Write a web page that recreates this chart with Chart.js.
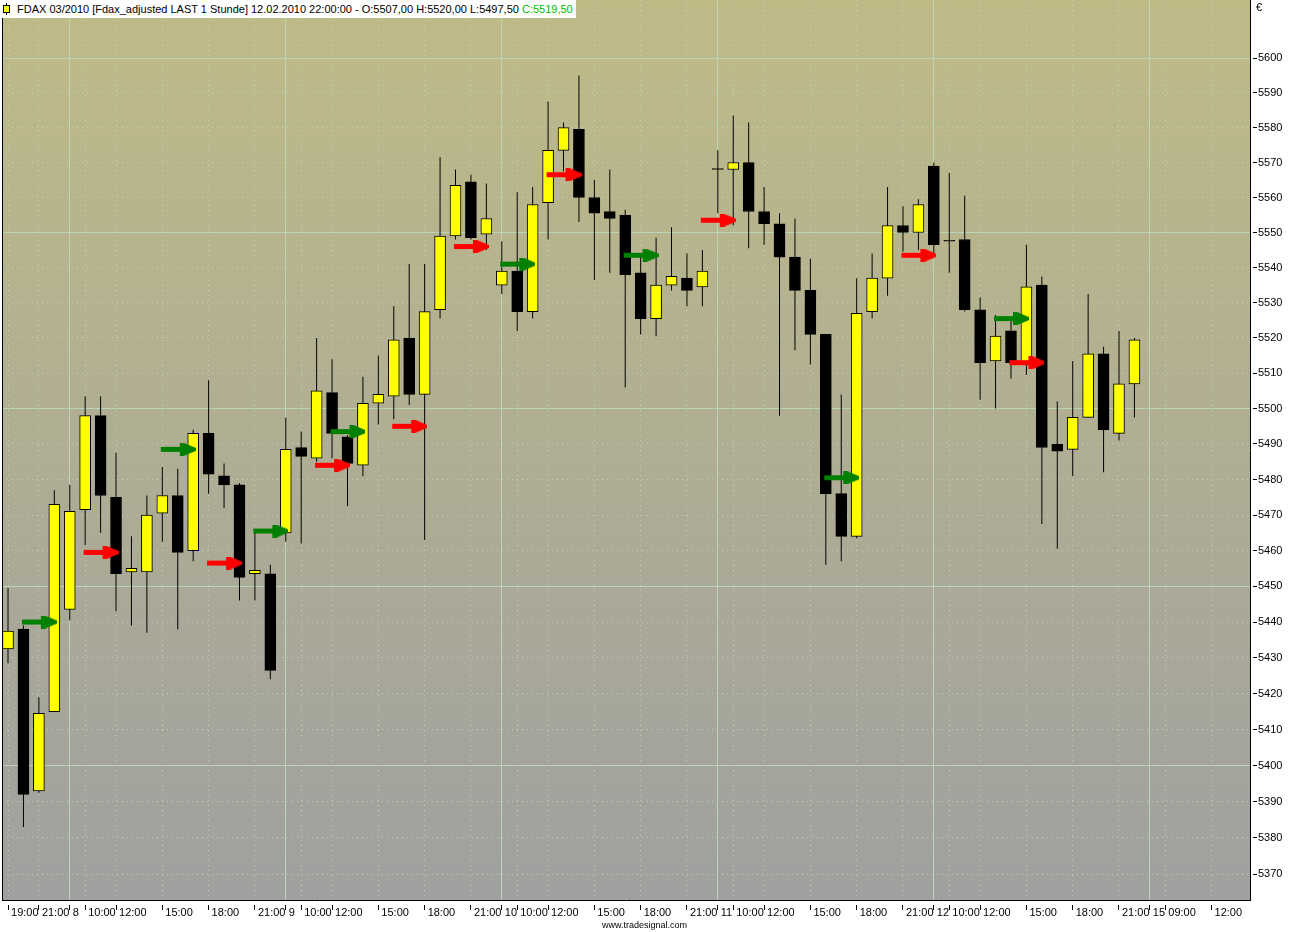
<!DOCTYPE html>
<html>
<head>
<meta charset="utf-8">
<script src="https://cdn.jsdelivr.net/npm/chart.js@4.4.1/dist/chart.umd.min.js"></script>
<style>
  html, body { margin: 0; padding: 0; background: #fff; }
  #wrap { position: relative; width: 1292px; height: 932px; overflow: hidden; }
  #wrap canvas { position: absolute; left: 0; top: 0; }
  .txt { position: absolute; font-family: "Liberation Sans", Arial, sans-serif; color: #000; white-space: nowrap; }
  #header { left: 0; top: 0; height: 18px; line-height: 18px; font-size: 11px; background: #fff; padding: 0 3px 0 17px; }
  #header .wick { position: absolute; left: 6px; top: 3px; width: 1px; height: 12px; background: #000; }
  #header .body { position: absolute; left: 3px; top: 5px; width: 5px; height: 6px; background: #ffff00; border: 1px solid #000; }
  #header .close { color: #00c000; }
  #euro { left: 1256px; top: 1px; font-size: 11px; }
  #brand { left: 602px; top: 920px; font-size: 9px; }
</style>
</head>
<body>
<div id="wrap">
  <canvas id="fdax" width="1292" height="932"></canvas>
  <div id="header" class="txt"><span class="wick"></span><span class="body"></span>FDAX 03/2010 [Fdax_adjusted LAST 1 Stunde] 12.02.2010 22:00:00 - O:5507,00 H:5520,00 L:5497,50 <span class="close">C:5519,50</span></div>
  <div id="euro" class="txt">€</div>
  <div id="brand" class="txt">www.tradesignal.com</div>
</div>
<script>
// hourly bars, 05.02. 19:00 .. 12.02. 22:00
const opens = [
  5432.5, 5438, 5393, 5415,
  5443.5, 5471.5, 5498, 5475, 5454, 5454, 5470.5, 5475.5, 5460, 5493, 5481, 5478.5, 5453.5, 5453.5,
  5465, 5489, 5486, 5504.5, 5492, 5484, 5501.5, 5503.5, 5520, 5504, 5528, 5549, 5564.5, 5549.5,
  5535, 5539, 5527.5, 5558.5, 5573.5, 5579.5, 5560, 5556, 5555, 5538.5, 5525.5, 5535, 5537, 5534.5,
  5568, 5568, 5570, 5556, 5552.5, 5543, 5533.5, 5521, 5476, 5464, 5527.5, 5537, 5552, 5550,
  5569, 5547.5, 5548, 5528, 5513.5, 5522, 5513, 5535, 5490, 5488.5, 5497.5, 5515.5, 5493, 5507
];
const highs = [
  5449.5, 5439, 5419, 5477,
  5478.5, 5503.5, 5503.5, 5487.5, 5464, 5475.5, 5483.5, 5483, 5494, 5508, 5484.5, 5479, 5465, 5456,
  5497.5, 5493.5, 5520, 5514, 5492.5, 5509, 5515, 5529, 5541, 5541, 5571.5, 5568, 5566.5, 5564,
  5547.5, 5561.5, 5563, 5587.5, 5581.5, 5595, 5565, 5568, 5556.5, 5543, 5548.5, 5551.5, 5544, 5545,
  5573.5, 5583.5, 5581.5, 5563, 5555.5, 5554, 5542.5, 5521, 5504, 5537, 5544, 5563, 5557.5, 5559.5,
  5570, 5567, 5560.5, 5531.5, 5526.5, 5525, 5546.5, 5537.5, 5502, 5513.5, 5532.5, 5517.5, 5522, 5520
];
const lows = [
  5428.5, 5383, 5392.5, 5415,
  5440.5, 5461.5, 5465, 5443, 5439, 5437, 5462.5, 5438, 5457, 5476, 5472, 5446, 5446, 5424,
  5462.5, 5462, 5485, 5486, 5472.5, 5481, 5495.5, 5497, 5501, 5463, 5525.5, 5548, 5548, 5545,
  5532.5, 5522, 5525.5, 5548, 5567.5, 5553, 5536.5, 5538.5, 5506, 5521, 5520.5, 5533.5, 5529, 5529,
  5555.5, 5552, 5545.5, 5546.5, 5498, 5516.5, 5512.5, 5456, 5457, 5463.5, 5525.5, 5532, 5544.5, 5545,
  5544, 5538.5, 5527.5, 5502.5, 5500, 5508.5, 5509.5, 5467.5, 5460.5, 5481, 5497.5, 5482, 5491, 5497.5
];
const closes = [
  5437.5, 5392, 5414.5, 5473,
  5471, 5498, 5475.5, 5453.5, 5455, 5470, 5475.5, 5459.5, 5493, 5481.5, 5478.5, 5452.5, 5454.5, 5426.5,
  5488.5, 5486.5, 5505, 5493, 5484.5, 5501.5, 5504, 5519.5, 5504, 5527.5, 5549, 5563.5, 5548.5, 5554,
  5539, 5527.5, 5558, 5573.5, 5580, 5560, 5555.5, 5554, 5538, 5525.5, 5535, 5537.5, 5533.5, 5539,
  5568, 5570, 5556, 5552.5, 5543, 5533.5, 5521, 5476, 5464, 5527, 5537, 5552, 5550, 5558,
  5546.5, 5547.5, 5528, 5513, 5520.5, 5513, 5534.5, 5489, 5488, 5497.5, 5515.5, 5494, 5507, 5519.5
];

// signal arrows (bar index, price)
const longIdx = [2, 11, 17, 22, 33, 41, 54, 65];
const longPrice = [5440, 5488.5, 5465.5, 5493.5, 5541, 5543.5, 5480.5, 5525.5];
const shortIdx = [6, 14, 21, 26, 30, 36, 46, 59, 66];
const shortPrice = [5459.5, 5456.5, 5484, 5495, 5546, 5566.5, 5553.5, 5543.5, 5513];

// axis labels
const xTickIdx = [0, 2, 4, 5, 7, 10, 13, 16, 18, 19, 21, 24, 27, 30, 32, 33, 35, 38, 41, 44,
  46, 47, 49, 52, 55, 58, 60, 61, 63, 66, 69, 72, 74, 75, 78];
const xTickText = ['19:00', '21:00', '8', '10:00', '12:00', '15:00', '18:00', '21:00', '9', '10:00',
  '12:00', '15:00', '18:00', '21:00', '10', '10:00', '12:00', '15:00', '18:00', '21:00',
  '11', '10:00', '12:00', '15:00', '18:00', '21:00', '12', '10:00', '12:00', '15:00',
  '18:00', '21:00', '15', '09:00', '12:00'];
const dayTickIdx = [4, 18, 32, 46, 60, 74];
const yTicks = [5370, 5380, 5390, 5400, 5410, 5420, 5430, 5440, 5450, 5460, 5470, 5480,
  5490, 5500, 5510, 5520, 5530, 5540, 5550, 5560, 5570, 5580, 5590, 5600];

const gridSolid = 'rgb(186,214,182)';
const gridDot = 'rgba(190,218,188,0.85)';
const font11 = { family: '"Liberation Sans", Arial, sans-serif', size: 11 };

function arrowSprite(color) {
  const c = document.createElement('canvas');
  c.width = 36;
  c.height = 13;
  const g = c.getContext('2d');
  g.fillStyle = color;
  g.fillRect(1, 4, 22, 5);
  g.beginPath();
  g.moveTo(20, 0);
  g.lineTo(24, 0);
  g.lineTo(36, 5);
  g.lineTo(36, 8);
  g.lineTo(24, 13);
  g.lineTo(20, 13);
  g.closePath();
  g.fill();
  return c;
}

const backdrop = {
  id: 'backdrop',
  beforeDraw(chart) {
    const { ctx, chartArea: a } = chart;
    ctx.save();
    ctx.fillStyle = '#fff';
    ctx.fillRect(0, 0, chart.width, chart.height);
    const grad = ctx.createLinearGradient(0, a.top, 0, a.bottom);
    grad.addColorStop(0, '#bfbb87');
    grad.addColorStop(1, '#a0a0a0');
    ctx.fillStyle = grad;
    ctx.fillRect(a.left, a.top, a.right - a.left, a.bottom - a.top);
    ctx.restore();
  },
  afterDraw(chart) {
    const { ctx, chartArea: a } = chart;
    ctx.save();
    ctx.strokeStyle = '#000';
    ctx.lineWidth = 1;
    ctx.beginPath();
    ctx.moveTo(a.left + 0.5, a.top);
    ctx.lineTo(a.left + 0.5, a.bottom);
    ctx.stroke();
    ctx.restore();
  }
};

new Chart(document.getElementById('fdax'), {
  type: 'bar',
  data: {
    datasets: [
      {
        type: 'scatter',
        data: longIdx.map((x, i) => ({ x: x, y: longPrice[i] })),
        pointStyle: arrowSprite('#008000'),
        pointRadius: 3,
        order: 1
      },
      {
        type: 'scatter',
        data: shortIdx.map((x, i) => ({ x: x, y: shortPrice[i] })),
        pointStyle: arrowSprite('#ff0000'),
        pointRadius: 3,
        order: 1
      },
      {
        data: opens.map((o, i) => ({ x: i, y: [o, closes[i]] })),
        backgroundColor: opens.map((o, i) => closes[i] > o ? '#ffff00' : '#000000'),
        borderColor: '#000',
        borderWidth: 1,
        borderSkipped: false,
        barThickness: 11,
        minBarLength: 1,
        grouped: false,
        order: 2
      },
      {
        data: lows.map((l, i) => ({ x: i, y: [l, highs[i]] })),
        backgroundColor: '#000',
        borderWidth: 0,
        barThickness: 1,
        inflateAmount: 0,
        grouped: false,
        order: 3
      }
    ]
  },
  options: {
    responsive: false,
    animation: false,
    events: [],
    layout: { autoPadding: false, padding: { left: 2, top: 0, right: 0, bottom: 0 } },
    plugins: {
      legend: { display: false },
      tooltip: { enabled: false }
    },
    scales: {
      x: {
        type: 'linear',
        position: 'bottom',
        min: -0.39,
        max: 80.49,
        bounds: 'data',
        offset: false,
        afterBuildTicks: axis => { axis.ticks = xTickIdx.map(v => ({ value: v })); },
        afterFit: axis => { axis.height = 32; axis.paddingLeft = 0; axis.paddingRight = 0; },
        ticks: {
          autoSkip: false,
          maxRotation: 0,
          minRotation: 0,
          align: 'start',
          labelOffset: 3,
          padding: -4,
          color: '#000',
          font: font11,
          callback: (v, i) => xTickText[i]
        },
        grid: {
          offset: false,
          color: c => (c.tick && dayTickIdx.includes(c.tick.value)) ? gridSolid : gridDot,
          lineWidth: 1,
          tickColor: '#000',
          tickLength: 10,
          tickBorderDash: [0, 4, 6]
        },
        border: {
          display: true,
          color: '#000',
          width: 1,
          dash: c => (c.tick && !dayTickIdx.includes(c.tick.value)) ? [1, 4] : []
        }
      },
      y: {
        type: 'logarithmic',
        position: 'right',
        min: 5362.83,
        max: 5616.72,
        bounds: 'data',
        afterBuildTicks: axis => { axis.ticks = yTicks.map(v => ({ value: v })); },
        afterFit: axis => { axis.width = 42; axis.paddingTop = 0; axis.paddingBottom = 0; },
        ticks: {
          autoSkip: false,
          padding: 1,
          color: '#000',
          font: font11,
          callback: v => String(v)
        },
        grid: {
          color: c => (c.tick && c.tick.value % 50 === 0) ? gridSolid : gridDot,
          lineWidth: 1,
          tickColor: '#000',
          tickLength: 7,
          tickBorderDash: [0, 2, 5]
        },
        border: {
          display: true,
          color: '#000',
          width: 1,
          dash: c => (c.tick && c.tick.value % 50 !== 0) ? [1, 4] : []
        }
      }
    }
  },
  plugins: [backdrop]
});
</script>
</body>
</html>
